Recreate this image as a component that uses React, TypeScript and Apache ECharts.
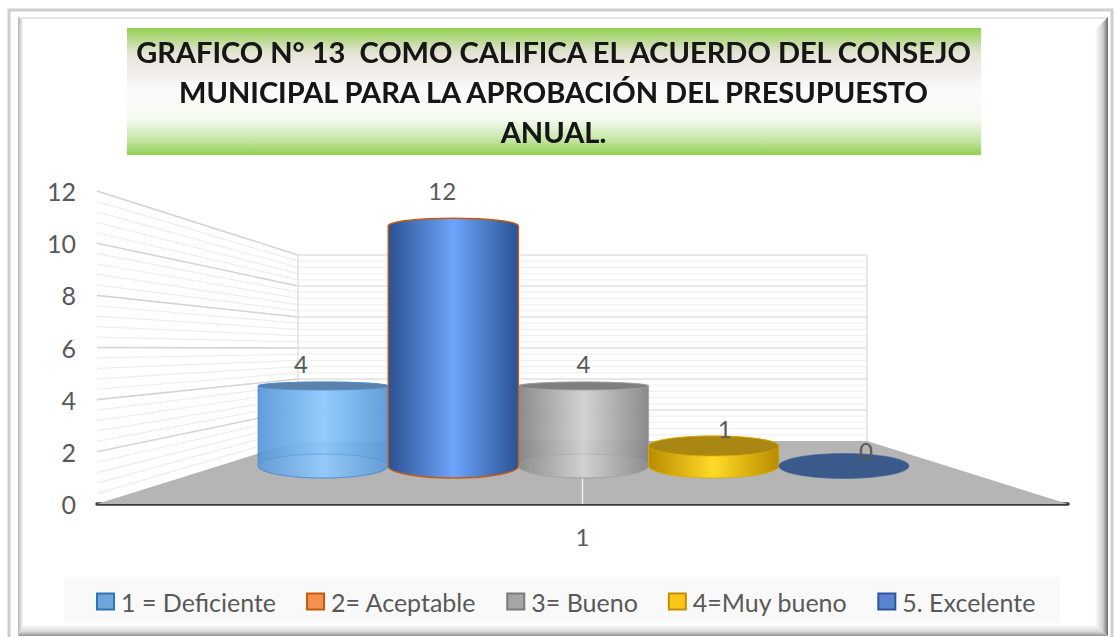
import React, { useEffect, useRef } from "react";
import * as echarts from "echarts";

const categories = ["1"];
const seriesNames = ["1 = Deficiente", "2= Aceptable", "3= Bueno", "4=Muy bueno", "5. Excelente"];
const deficiente = [4];
const aceptable = [12];
const bueno = [4];
const muyBueno = [1];
const excelente = [0];
const yTicks = [0, 2, 4, 6, 8, 10, 12];
const titleLines = [
  "GRAFICO N° 13  COMO CALIFICA EL ACUERDO DEL CONSEJO",
  "MUNICIPAL PARA LA APROBACIÓN DEL PRESUPUESTO",
  "ANUAL.",
];

const FONT = "Lato, 'Open Sans', sans-serif";

const looks = [
  { edge: "#5596d6", mid: "#8cc8ff", cap: "#5b82ab", stroke: "#4a8ccc", opacity: 0.92, legend: "#6fa5db", legendBorder: "#2e75b6" },
  { edge: "#2a5292", mid: "#6ea4fb", cap: "#2f5fa8", stroke: "#c55a11", opacity: 1, legend: "#f4914f", legendBorder: "#c55a11" },
  { edge: "#858585", mid: "#d0d0d0", cap: "#7f7f7f", stroke: "#a0a0a0", opacity: 0.95, legend: "#a5a5a5", legendBorder: "#7b7b7b" },
  { edge: "#b98b00", mid: "#ffdb26", cap: "#a98712", stroke: "#d9a900", opacity: 1, legend: "#ffc61a", legendBorder: "#bf9000" },
  { edge: "#3b5a8c", mid: "#3b5a8c", cap: "#3b5a8c", stroke: "#44659c", opacity: 1, legend: "#5b84cf", legendBorder: "#2f55a0" },
];

const BOTTOM_RY = 12;

function cylinder(index: number) {
  return (params: any, api: any) => {
    const v = api.value(1);
    const [cxBand, yTop] = api.coord([0, v]);
    const [, yBot] = api.coord([0, 0]);
    const band = api.size([1, 0])[0] / seriesNames.length;
    const left = cxBand - (band * seriesNames.length) / 2 + band * index;
    const rx = band / 2;
    const cx = left + rx;
    const look = looks[index];
    let capRy = BOTTOM_RY * (1 - v / 6);
    if (capRy < 0) capRy *= 0.65;
    const absRy = Math.abs(capRy);
    const children: any[] = [];
    const labelX = cxBand + (cx - cxBand) * 1.085;
    const labelY = 450 - (yBot - yTop) * 1.08;
    if (v === 0) {
      children.push({
        type: "ellipse",
        shape: { cx, cy: yBot, rx, ry: BOTTOM_RY + 0.5 },
        style: { fill: look.cap, stroke: look.stroke, lineWidth: 0.6 },
      });
    } else {
      const x0 = left;
      const x1 = left + band;
      const fill = new echarts.graphic.LinearGradient(0, 0, 1, 0, [
        { offset: 0, color: look.edge },
        { offset: 0.5, color: look.mid },
        { offset: 1, color: look.edge },
      ]);
      children.push({
        type: "path",
        shape: {
          pathData: `M${x0} ${yTop} A${rx} ${absRy} 0 0 1 ${x1} ${yTop} L${x1} ${yBot} A${rx} ${BOTTOM_RY} 0 0 1 ${x0} ${yBot} Z`,
          x: x0,
          y: yTop - absRy,
          width: band,
          height: yBot - yTop + absRy + BOTTOM_RY,
          layout: "cover",
        },
        style: { fill, stroke: look.stroke, lineWidth: index === 1 ? 1.4 : 0.8, opacity: look.opacity },
      });
      if (index === 0 || index === 2) {
        children.push({
          type: "ellipse",
          shape: { cx, cy: yBot, rx, ry: BOTTOM_RY },
          style: { fill: "rgba(255,255,255,0.06)", stroke: look.stroke, lineWidth: 0.6, opacity: 0.8 },
        });
      }
      if (capRy > 0) {
        children.push({
          type: "ellipse",
          shape: { cx, cy: yTop, rx, ry: capRy },
          style: { fill: look.cap, stroke: look.stroke, lineWidth: 0.8 },
        });
      }
    }
    children.push({
      type: "text",
      style: {
        x: labelX,
        y: labelY,
        text: String(v),
        fill: "#595959",
        font: `24px ${FONT}`,
        align: "center",
        verticalAlign: "middle",
      },
      z2: 50,
    });
    return { type: "group", children };
  };
}

function renderWalls(params: any, api: any) {
  const frontLeft = api.coord([0, 0])[0] - api.size([1, 0])[0] / 2;
  const frontRight = frontLeft + api.size([1, 0])[0];
  const frontBase = api.coord([0, 0])[1];
  const backLeft = 298;
  const backRight = 867;
  const backBase = 441;
  const scale = 186 / 313;
  const children: any[] = [];
  for (let step = 1; step <= 30; step++) {
    const v = step * 0.4;
    const major = step % 5 === 0;
    const fy = api.coord([0, v])[1];
    const by = backBase - (frontBase - fy) * scale;
    children.push({
      type: "line",
      shape: { x1: frontLeft, y1: fy, x2: backLeft, y2: by },
      style: { stroke: major ? "#d4d4d4" : "#ededed", lineWidth: major ? 1.6 : 1.2 },
    });
    children.push({
      type: "line",
      shape: { x1: backLeft, y1: by, x2: backRight, y2: by },
      style: { stroke: major ? "#e0e0e0" : "#f1f1f1", lineWidth: major ? 1.5 : 1.2 },
    });
  }
  const topBack = backBase - (frontBase - api.coord([0, 12])[1]) * scale;
  for (const x of [backLeft, backRight]) {
    children.push({
      type: "line",
      shape: { x1: x, y1: topBack, x2: x, y2: backBase },
      style: { stroke: "#e0e0e0", lineWidth: 1.5 },
    });
  }
  children.push({
    type: "polygon",
    shape: { points: [[frontLeft, frontBase], [backLeft, backBase], [backRight, backBase], [frontRight, frontBase]] },
    style: { fill: "#b5b5b5" },
  });
  children.push({
    type: "line",
    shape: { x1: (frontLeft + frontRight) / 2, y1: backBase, x2: (frontLeft + frontRight) / 2, y2: frontBase },
    style: { stroke: "#f2f2f2", lineWidth: 1.3 },
  });
  return { type: "group", children };
}

export default function App() {
  const ref = useRef<HTMLDivElement>(null);
  useEffect(() => {
    const chart = echarts.init(ref.current!, undefined, { renderer: "svg" });
    const values = [deficiente, aceptable, bueno, muyBueno, excelente];
    const drawOrder = [0, 2, 3, 4, 1];
    chart.setOption({
      animation: false,
      backgroundColor: "#ffffff",
      title: {
        text: titleLines.join("\n"),
        left: 548.5,
        top: 26,
        textAlign: "center",
        z: 6,
        textStyle: {
          fontFamily: FONT,
          fontWeight: "bold",
          fontSize: 29,
          lineHeight: 40,
          color: "#141414",
          textShadowColor: "rgba(0,0,0,0.25)",
          textShadowBlur: 1.5,
        },
      },
      graphic: [
        { type: "rect", z: -10, shape: { x: 9, y: 10, width: 1103, height: 640 }, style: { fill: "#fff", stroke: "#cfcfcf", lineWidth: 3 } },
        { type: "rect", z: -9, shape: { x: 18, y: 17, width: 1090, height: 2 }, style: { fill: "#e4e4e4" } },
        {
          type: "polygon",
          z: -9,
          shape: { points: [[18, 17], [23, 20], [23, 625], [18, 636]] },
          style: { fill: new echarts.graphic.LinearGradient(0, 0, 1, 0, [{ offset: 0, color: "#b4b4b4" }, { offset: 1, color: "#f7f7f7" }]) },
        },
        {
          type: "polygon",
          z: -9,
          shape: { points: [[1108, 17], [1095, 30], [1095, 625], [1108, 636]] },
          style: {
            fill: new echarts.graphic.LinearGradient(0, 0, 1, 0, [
              { offset: 0, color: "#ffffff" },
              { offset: 0.6, color: "#d0d0d0" },
              { offset: 1, color: "#6e6e6e" },
            ]),
          },
        },
        {
          type: "polygon",
          z: -9,
          shape: { points: [[18, 636], [23, 625], [1095, 625], [1108, 636]] },
          style: {
            fill: new echarts.graphic.LinearGradient(0, 0, 0, 1, [
              { offset: 0, color: "#fbfbfb" },
              { offset: 0.6, color: "#d8d8d8" },
              { offset: 1, color: "#949494" },
            ]),
          },
        },
        {
          type: "rect",
          z: -8,
          shape: { x: 127, y: 28, width: 854, height: 127 },
          style: {
            fill: new echarts.graphic.LinearGradient(0, 0, 0, 1, [
              { offset: 0, color: "#92d050" },
              { offset: 0.2, color: "#e6e4d8" },
              { offset: 0.5, color: "#fbfbfa" },
              { offset: 0.72, color: "#f4faef" },
              { offset: 0.88, color: "#c6e6a6" },
              { offset: 1, color: "#92d050" },
            ]),
          },
        },
      ],
      legend: {
        data: seriesNames,
        left: 64,
        top: 577,
        padding: [12, 25, 9, 32],
        itemGap: 30,
        itemWidth: 17,
        itemHeight: 16,
        backgroundColor: "#f9f9f9",
        icon: "rect",
        selectedMode: false,
        textStyle: { fontFamily: FONT, fontSize: 25, color: "#595959", padding: [0, 0, 0, 2] },
      },
      grid: [
        { left: 97, width: 971, top: 191, height: 313 },
        { left: 258, width: 651, top: 226, height: 240 },
      ],
      xAxis: [
        {
          type: "category",
          gridIndex: 0,
          data: categories,
          axisTick: { show: false },
          axisLine: { lineStyle: { color: "#3c3c3c", width: 3.5 } },
          axisLabel: { margin: 20, fontFamily: FONT, fontSize: 24, color: "#595959" },
        },
        { type: "category", gridIndex: 1, data: categories, show: false },
      ],
      yAxis: [
        {
          type: "value",
          gridIndex: 0,
          min: yTicks[0],
          max: yTicks[yTicks.length - 1],
          interval: 2,
          axisLine: { show: false },
          axisTick: { show: false },
          splitLine: { show: false },
          axisLabel: { margin: 21, fontFamily: FONT, fontSize: 25, color: "#595959" },
        },
        { type: "value", gridIndex: 1, min: 0, max: 12, interval: 2, show: false },
      ],
      series: [
        {
          type: "custom",
          name: "paredes",
          xAxisIndex: 0,
          yAxisIndex: 0,
          z: 1,
          silent: true,
          data: [[0, 0]],
          renderItem: renderWalls,
          clip: false,
        },
        ...drawOrder.map((i) => ({
          type: "custom",
          name: seriesNames[i],
          xAxisIndex: 1,
          yAxisIndex: 1,
          z: 3 + (i === 1 ? 5 : 0),
          itemStyle: { color: looks[i].legend, borderColor: looks[i].legendBorder, borderWidth: 2 },
          data: values[i].map((v, k) => [k, v]),
          renderItem: cylinder(i),
          clip: false,
        })),
      ],
    });
    return () => chart.dispose();
  }, []);
  return <div ref={ref} style={{ position: "fixed", left: 0, top: 0, width: 1115, height: 637 }} />;
}
